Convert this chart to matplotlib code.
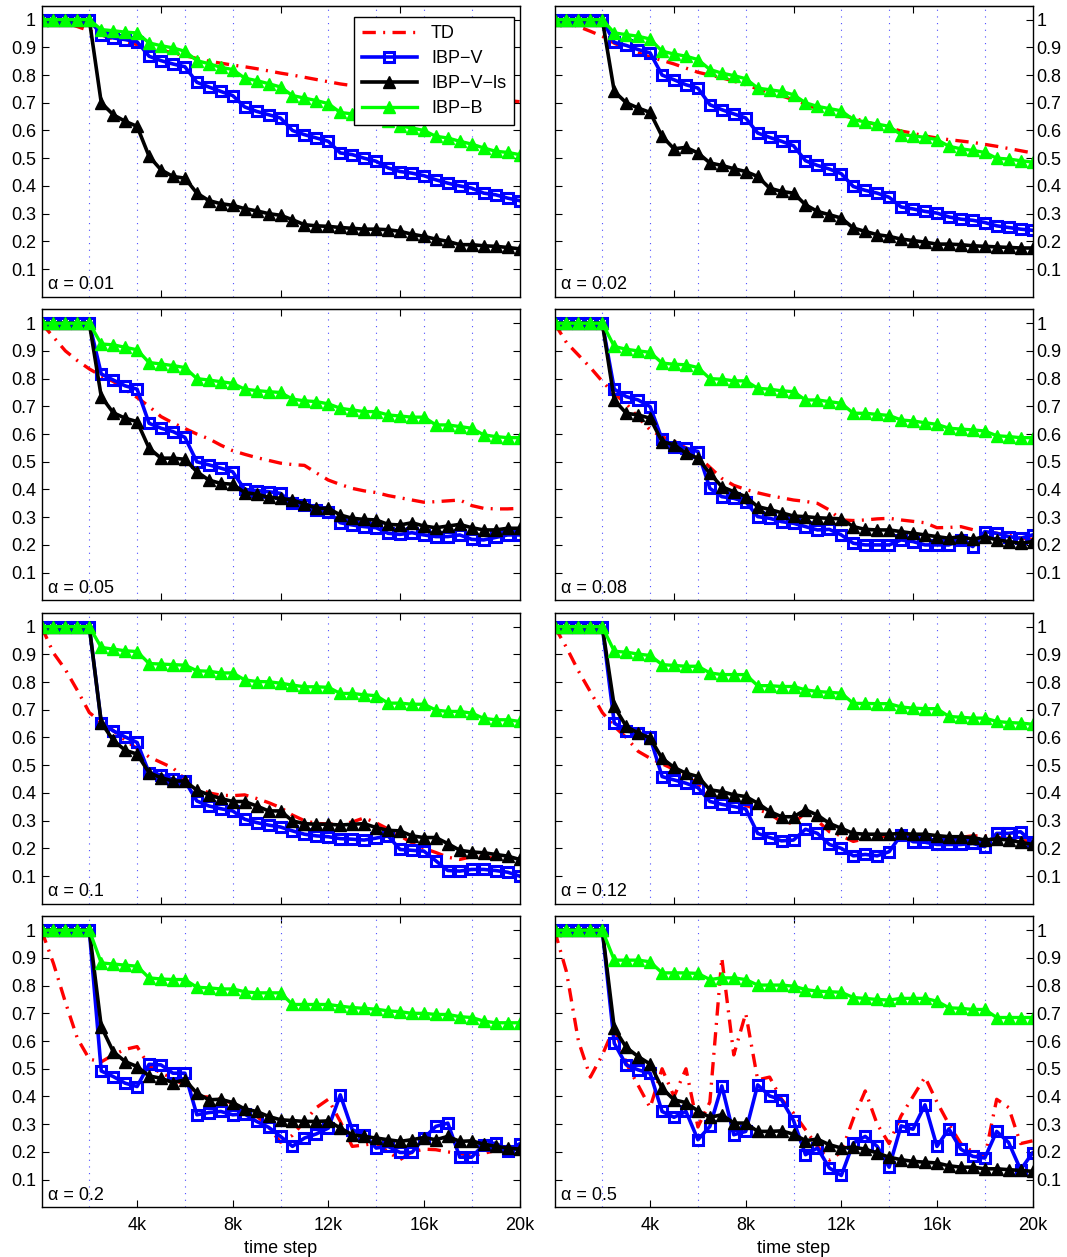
import matplotlib
matplotlib.use("Agg")
import matplotlib.pyplot as plt

plt.rcParams["font.family"] = ["Liberation Sans", "DejaVu Sans"]
plt.rcParams["font.size"] = 13

# sampling grid of the learning curves (every 500 steps)
time_step = list(range(0, 20001, 500))

alphas = ["0.01", "0.02", "0.05", "0.08", "0.1", "0.12", "0.2", "0.5"]
series_names = ["TD", "IBP\u2212V", "IBP\u2212V\u2212ls", "IBP\u2212B"]

# alpha = 0.01
td_a001 = [1.0, 0.995, 0.99, 0.975, 0.96, 0.945, 0.93, 0.92, 0.91, 0.90, 0.89, 0.88, 0.87, 0.86,
           0.85, 0.843, 0.836, 0.83, 0.823, 0.815, 0.807, 0.80, 0.792, 0.784, 0.776, 0.768, 0.762,
           0.757, 0.752, 0.748, 0.744, 0.74, 0.736, 0.732, 0.728, 0.724, 0.72, 0.716, 0.712, 0.708, 0.704]
ibpv_a001 = [1, 1, 1, 1, 1, 0.946, 0.934, 0.928, 0.92, 0.868, 0.852, 0.84, 0.83, 0.774, 0.757, 0.741,
             0.726, 0.685, 0.669, 0.657, 0.645, 0.60, 0.585, 0.573, 0.561, 0.519, 0.513, 0.50, 0.489,
             0.465, 0.452, 0.446, 0.437, 0.422, 0.41, 0.40, 0.392, 0.374, 0.368, 0.356, 0.347]
ibpvls_a001 = [1, 1, 1, 1, 1, 0.70, 0.657, 0.633, 0.615, 0.507, 0.458, 0.434, 0.428, 0.374, 0.347,
               0.336, 0.33, 0.318, 0.31, 0.30, 0.294, 0.278, 0.26, 0.256, 0.254, 0.25, 0.247, 0.244,
               0.244, 0.242, 0.236, 0.226, 0.218, 0.208, 0.20, 0.188, 0.188, 0.184, 0.182, 0.178, 0.173]
ibpb_a001 = [1, 1, 1, 1, 1, 0.964, 0.96, 0.955, 0.952, 0.916, 0.906, 0.898, 0.886, 0.852, 0.841, 0.828,
             0.82, 0.789, 0.78, 0.769, 0.757, 0.726, 0.717, 0.708, 0.697, 0.665, 0.66, 0.651, 0.645,
             0.633, 0.617, 0.609, 0.60, 0.579, 0.573, 0.561, 0.551, 0.537, 0.525, 0.521, 0.513]

# alpha = 0.02
td_a002 = [1.0, 0.99, 0.975, 0.958, 0.94, 0.915, 0.895, 0.88, 0.865, 0.853, 0.84, 0.825, 0.81, 0.80,
           0.79, 0.778, 0.765, 0.75, 0.738, 0.725, 0.711, 0.695, 0.678, 0.665, 0.655, 0.645, 0.632,
           0.62, 0.61, 0.598, 0.59, 0.58, 0.573, 0.567, 0.562, 0.557, 0.55, 0.543, 0.535, 0.527, 0.519]
ibpv_a002 = [1, 1, 1, 1, 1, 0.918, 0.907, 0.892, 0.88, 0.80, 0.783, 0.765, 0.753, 0.693, 0.675, 0.66,
             0.645, 0.591, 0.575, 0.561, 0.545, 0.491, 0.474, 0.461, 0.444, 0.398, 0.384, 0.374, 0.359,
             0.324, 0.317, 0.308, 0.302, 0.288, 0.28, 0.276, 0.268, 0.256, 0.25, 0.244, 0.24]
ibpvls_a002 = [1, 1, 1, 1, 1, 0.741, 0.70, 0.681, 0.665, 0.579, 0.534, 0.539, 0.519, 0.483, 0.474,
               0.462, 0.452, 0.434, 0.392, 0.38, 0.374, 0.332, 0.308, 0.296, 0.284, 0.248, 0.236, 0.224,
               0.218, 0.208, 0.203, 0.197, 0.19, 0.19, 0.188, 0.184, 0.182, 0.18, 0.178, 0.176, 0.176]
ibpb_a002 = [1, 1, 1, 1, 1, 0.952, 0.946, 0.94, 0.93, 0.886, 0.876, 0.868, 0.856, 0.82, 0.807, 0.798,
             0.787, 0.753, 0.747, 0.741, 0.729, 0.70, 0.687, 0.679, 0.671, 0.639, 0.631, 0.623, 0.615,
             0.585, 0.581, 0.575, 0.567, 0.543, 0.534, 0.528, 0.521, 0.50, 0.497, 0.491, 0.486]

# alpha = 0.05
td_a005 = [1.0, 0.95, 0.9, 0.865, 0.835, 0.81, 0.79, 0.76, 0.732, 0.70, 0.663, 0.64, 0.62, 0.60,
           0.583, 0.56, 0.54, 0.527, 0.515, 0.505, 0.495, 0.49, 0.487, 0.46, 0.434, 0.418, 0.404,
           0.395, 0.389, 0.378, 0.37, 0.362, 0.354, 0.356, 0.359, 0.362, 0.342, 0.332, 0.33, 0.33, 0.332]
ibpv_a005 = [1, 1, 1, 1, 1, 0.817, 0.795, 0.774, 0.762, 0.639, 0.621, 0.609, 0.588, 0.50, 0.489, 0.477,
             0.464, 0.40, 0.396, 0.392, 0.386, 0.35, 0.344, 0.326, 0.32, 0.28, 0.272, 0.266, 0.262,
             0.242, 0.238, 0.244, 0.236, 0.23, 0.23, 0.236, 0.22, 0.218, 0.227, 0.236, 0.236]
ibpvls_a005 = [1, 1, 1, 1, 1, 0.735, 0.677, 0.657, 0.645, 0.549, 0.513, 0.513, 0.509, 0.464, 0.434,
               0.422, 0.419, 0.389, 0.383, 0.372, 0.368, 0.362, 0.348, 0.332, 0.332, 0.308, 0.296, 0.292,
               0.29, 0.274, 0.272, 0.28, 0.268, 0.262, 0.268, 0.274, 0.262, 0.254, 0.254, 0.26, 0.26]
ibpb_a005 = [1, 1, 1, 1, 1, 0.925, 0.922, 0.913, 0.904, 0.858, 0.853, 0.847, 0.84, 0.80, 0.795, 0.789,
             0.783, 0.762, 0.757, 0.753, 0.75, 0.726, 0.72, 0.717, 0.709, 0.693, 0.687, 0.681, 0.681,
             0.669, 0.665, 0.661, 0.661, 0.633, 0.633, 0.627, 0.621, 0.597, 0.591, 0.587, 0.587]

# alpha = 0.08
td_a008 = [1.0, 0.93, 0.885, 0.84, 0.79, 0.745, 0.71, 0.66, 0.615, 0.59, 0.575, 0.55, 0.52, 0.48,
           0.44, 0.415, 0.40, 0.388, 0.378, 0.37, 0.362, 0.357, 0.35, 0.326, 0.29, 0.288, 0.29,
           0.294, 0.296, 0.29, 0.285, 0.28, 0.262, 0.263, 0.266, 0.255, 0.248, 0.242, 0.235, 0.225, 0.22]
ibpv_a008 = [1, 1, 1, 1, 1, 0.762, 0.735, 0.723, 0.699, 0.581, 0.555, 0.549, 0.537, 0.404, 0.374, 0.368,
             0.356, 0.302, 0.296, 0.284, 0.278, 0.266, 0.254, 0.256, 0.236, 0.206, 0.20, 0.20, 0.20,
             0.218, 0.212, 0.20, 0.20, 0.20, 0.218, 0.194, 0.248, 0.242, 0.23, 0.224, 0.236]
ibpvls_a008 = [1, 1, 1, 1, 1, 0.723, 0.675, 0.669, 0.657, 0.573, 0.561, 0.531, 0.513, 0.458, 0.41,
               0.392, 0.374, 0.338, 0.328, 0.316, 0.304, 0.302, 0.298, 0.296, 0.294, 0.266, 0.256, 0.254,
               0.254, 0.248, 0.242, 0.236, 0.23, 0.224, 0.23, 0.22, 0.23, 0.218, 0.212, 0.206, 0.212]
ibpb_a008 = [1, 1, 1, 1, 1, 0.916, 0.906, 0.90, 0.895, 0.856, 0.852, 0.85, 0.84, 0.80, 0.798, 0.792,
             0.792, 0.765, 0.762, 0.756, 0.753, 0.723, 0.723, 0.717, 0.711, 0.675, 0.675, 0.671, 0.667,
             0.651, 0.647, 0.641, 0.635, 0.621, 0.618, 0.615, 0.611, 0.594, 0.591, 0.587, 0.587]

# alpha = 0.1
td_a010 = [1.0, 0.905, 0.845, 0.77, 0.69, 0.655, 0.625, 0.59, 0.56, 0.53, 0.51, 0.49, 0.45, 0.42,
           0.40, 0.392, 0.39, 0.393, 0.38, 0.365, 0.347, 0.32, 0.30, 0.29, 0.288, 0.287, 0.295, 0.31,
           0.292, 0.27, 0.245, 0.22, 0.20, 0.185, 0.168, 0.16, 0.17, 0.17, 0.163, 0.158, 0.155]
ibpv_a010 = [1, 1, 1, 1, 1, 0.654, 0.624, 0.602, 0.582, 0.473, 0.465, 0.449, 0.443, 0.371, 0.353, 0.343,
             0.335, 0.305, 0.293, 0.284, 0.277, 0.263, 0.251, 0.245, 0.242, 0.235, 0.233, 0.23, 0.237,
             0.245, 0.196, 0.193, 0.19, 0.155, 0.12, 0.118, 0.124, 0.124, 0.12, 0.114, 0.10]
ibpvls_a010 = [1, 1, 1, 1, 1, 0.654, 0.59, 0.554, 0.54, 0.473, 0.455, 0.443, 0.443, 0.41, 0.393,
               0.38, 0.369, 0.369, 0.353, 0.335, 0.335, 0.299, 0.289, 0.287, 0.287, 0.284, 0.287, 0.289,
               0.275, 0.265, 0.263, 0.245, 0.239, 0.239, 0.217, 0.193, 0.187, 0.184, 0.178, 0.172, 0.16]
ibpb_a010 = [1, 1, 1, 1, 1, 0.925, 0.919, 0.913, 0.91, 0.867, 0.865, 0.863, 0.861, 0.841, 0.839, 0.833,
             0.833, 0.808, 0.802, 0.801, 0.796, 0.789, 0.783, 0.783, 0.781, 0.759, 0.759, 0.754, 0.751,
             0.724, 0.724, 0.72, 0.72, 0.699, 0.694, 0.694, 0.688, 0.669, 0.664, 0.664, 0.658]

# alpha = 0.12
td_a012 = [1.0, 0.925, 0.84, 0.765, 0.69, 0.64, 0.60, 0.55, 0.525, 0.505, 0.485, 0.465, 0.43, 0.39,
           0.38, 0.37, 0.355, 0.34, 0.325, 0.295, 0.29, 0.33, 0.30, 0.26, 0.245, 0.225, 0.235, 0.24,
           0.245, 0.248, 0.245, 0.24, 0.236, 0.238, 0.24, 0.245, 0.245, 0.24, 0.235, 0.23, 0.224]
ibpv_a012 = [1, 1, 1, 1, 1, 0.652, 0.624, 0.616, 0.60, 0.459, 0.447, 0.435, 0.419, 0.369, 0.359, 0.351,
             0.342, 0.254, 0.239, 0.227, 0.23, 0.269, 0.254, 0.214, 0.20, 0.173, 0.178, 0.173, 0.188,
             0.248, 0.224, 0.222, 0.214, 0.214, 0.214, 0.218, 0.206, 0.254, 0.254, 0.26, 0.222]
ibpvls_a012 = [1, 1, 1, 1, 1, 0.712, 0.64, 0.616, 0.598, 0.525, 0.492, 0.471, 0.459, 0.411, 0.405,
               0.393, 0.387, 0.363, 0.333, 0.314, 0.314, 0.339, 0.32, 0.29, 0.272, 0.254, 0.251, 0.251,
               0.251, 0.254, 0.251, 0.251, 0.246, 0.242, 0.242, 0.239, 0.23, 0.234, 0.23, 0.222, 0.214]
ibpb_a012 = [1, 1, 1, 1, 1, 0.911, 0.908, 0.901, 0.896, 0.863, 0.86, 0.857, 0.857, 0.833, 0.827, 0.827,
             0.827, 0.787, 0.787, 0.784, 0.784, 0.772, 0.766, 0.763, 0.76, 0.723, 0.723, 0.722, 0.722,
             0.71, 0.706, 0.704, 0.704, 0.676, 0.673, 0.67, 0.67, 0.658, 0.654, 0.652, 0.648]

# alpha = 0.2
td_a020 = [1.0, 0.88, 0.74, 0.61, 0.535, 0.525, 0.55, 0.57, 0.58, 0.51, 0.485, 0.465, 0.44, 0.40,
           0.398, 0.39, 0.375, 0.355, 0.33, 0.29, 0.235, 0.26, 0.31, 0.36, 0.39, 0.31, 0.22, 0.225,
           0.232, 0.20, 0.172, 0.20, 0.21, 0.208, 0.20, 0.195, 0.185, 0.195, 0.205, 0.21, 0.214]
ibpv_a020 = [1, 1, 1, 1, 1, 0.492, 0.472, 0.448, 0.436, 0.516, 0.514, 0.484, 0.484, 0.334, 0.342, 0.346,
             0.334, 0.337, 0.31, 0.289, 0.256, 0.22, 0.25, 0.265, 0.286, 0.406, 0.28, 0.262, 0.214,
             0.22, 0.198, 0.198, 0.25, 0.292, 0.304, 0.181, 0.181, 0.226, 0.232, 0.205, 0.229]
ibpvls_a020 = [1, 1, 1, 1, 1, 0.652, 0.562, 0.526, 0.508, 0.474, 0.466, 0.45, 0.46, 0.412, 0.388,
               0.39, 0.378, 0.355, 0.346, 0.328, 0.316, 0.313, 0.31, 0.31, 0.312, 0.286, 0.262, 0.256,
               0.25, 0.244, 0.238, 0.244, 0.252, 0.244, 0.256, 0.238, 0.24, 0.228, 0.22, 0.214, 0.21]
ibpb_a020 = [1, 1, 1, 1, 1, 0.882, 0.878, 0.874, 0.87, 0.828, 0.824, 0.822, 0.822, 0.794, 0.792, 0.788,
             0.788, 0.778, 0.774, 0.774, 0.774, 0.732, 0.732, 0.732, 0.732, 0.726, 0.721, 0.718, 0.715,
             0.709, 0.706, 0.70, 0.70, 0.696, 0.696, 0.688, 0.685, 0.672, 0.666, 0.666, 0.666]

# alpha = 0.5
td_a050 = [1.0, 0.85, 0.6, 0.47, 0.55, 0.65, 0.52, 0.44, 0.36, 0.50, 0.40, 0.50, 0.29, 0.38, 0.90,
           0.55, 0.70, 0.46, 0.47, 0.39, 0.34, 0.28, 0.22, 0.17, 0.20, 0.32, 0.42, 0.30, 0.23, 0.33,
           0.40, 0.47, 0.38, 0.30, 0.23, 0.20, 0.18, 0.39, 0.36, 0.23, 0.24]
ibpv_a050 = [1, 1, 1, 1, 1, 0.592, 0.514, 0.496, 0.484, 0.346, 0.325, 0.346, 0.244, 0.292, 0.438, 0.262,
             0.274, 0.442, 0.402, 0.388, 0.313, 0.19, 0.214, 0.142, 0.115, 0.232, 0.256, 0.22, 0.145,
             0.294, 0.282, 0.37, 0.22, 0.283, 0.21, 0.184, 0.178, 0.274, 0.234, 0.136, 0.196]
ibpvls_a050 = [1, 1, 1, 1, 1, 0.646, 0.577, 0.544, 0.517, 0.43, 0.388, 0.378, 0.348, 0.325, 0.334,
               0.304, 0.304, 0.274, 0.274, 0.276, 0.264, 0.241, 0.246, 0.226, 0.214, 0.217, 0.21, 0.196,
               0.181, 0.172, 0.166, 0.163, 0.16, 0.15, 0.145, 0.145, 0.139, 0.139, 0.136, 0.133, 0.13]
ibpb_a050 = [1, 1, 1, 1, 1, 0.892, 0.892, 0.892, 0.886, 0.846, 0.846, 0.846, 0.844, 0.822, 0.828, 0.828,
             0.822, 0.802, 0.802, 0.802, 0.798, 0.786, 0.78, 0.778, 0.776, 0.757, 0.754, 0.75, 0.748,
             0.754, 0.754, 0.754, 0.744, 0.72, 0.718, 0.714, 0.714, 0.685, 0.685, 0.685, 0.685]

td_curves = [td_a001, td_a002, td_a005, td_a008, td_a010, td_a012, td_a020, td_a050]
ibpv_curves = [ibpv_a001, ibpv_a002, ibpv_a005, ibpv_a008, ibpv_a010, ibpv_a012, ibpv_a020, ibpv_a050]
ibpvls_curves = [ibpvls_a001, ibpvls_a002, ibpvls_a005, ibpvls_a008, ibpvls_a010, ibpvls_a012,
                 ibpvls_a020, ibpvls_a050]
ibpb_curves = [ibpb_a001, ibpb_a002, ibpb_a005, ibpb_a008, ibpb_a010, ibpb_a012, ibpb_a020, ibpb_a050]

ytick_values = [0.1, 0.2, 0.3, 0.4, 0.5, 0.6, 0.7, 0.8, 0.9, 1.0]
ytick_labels = ["0.1", "0.2", "0.3", "0.4", "0.5", "0.6", "0.7", "0.8", "0.9", "1"]
xtick_values = [4000, 8000, 12000, 16000, 20000]
xtick_labels = ["4k", "8k", "12k", "16k", "20k"]
frame_ticks = [5000, 10000, 15000]
grid_steps = [2000, 4000, 6000, 8000, 10000, 12000, 14000, 16000, 18000]


def plot_panel(ax, i, right, bottom):
    ax.plot(time_step, td_curves[i], color="r", lw=2.4, dashes=[4, 2.2, 0.6, 2.2],
            label=series_names[0])
    ax.plot(time_step, ibpv_curves[i], color="b", lw=2.6, marker="s", ms=7.5, mew=2.2,
            mfc="none", label=series_names[1])
    ax.plot(time_step, ibpvls_curves[i], color="k", lw=2.6, marker="^", ms=9,
            label=series_names[2])
    ax.plot(time_step, ibpb_curves[i], color=(0, 1, 0), lw=2.4, marker="^", ms=8,
            label=series_names[3])

    ax.set_xlim(0, 20000)
    ax.set_ylim(0, 1.05)
    ax.set_yticks(ytick_values)
    ax.set_yticklabels(ytick_labels)

    # dotted vertical grid every 2k
    ax.set_xticks(grid_steps, minor=True)
    ax.grid(True, which="minor", axis="x", color="#4d4dff", lw=0.8, ls=(0, (1, 5)))
    ax.tick_params(which="minor", length=0)

    if bottom:
        ax.set_xticks(xtick_values)
        ax.set_xticklabels(xtick_labels)
        ax.set_xlabel("time step", labelpad=4)
    else:
        ax.set_xticks(frame_ticks)
        ax.set_xticklabels([])
    top = ax.secondary_xaxis("top")
    top.set_xticks(frame_ticks)
    top.set_xticklabels([])
    top.tick_params(direction="in", length=5)

    ax.tick_params(axis="both", which="major", direction="in", length=5,
                   left=True, right=True, labelsize=13, pad=4)
    ax.tick_params(axis="x", pad=7)
    if right:
        ax.tick_params(axis="y", labelleft=False, labelright=True, pad=3)
    for s in ax.spines.values():
        s.set_linewidth(1.0)

    ax.text(0.013, 0.042, "\u03b1 = " + alphas[i], transform=ax.transAxes,
            fontsize=13, va="center", ha="left")


fig = plt.figure(figsize=(10.67, 12.57), dpi=100)
lefts = [0.0389, 0.5197]
bottoms = [0.7639, 0.5224, 0.2810, 0.0395]
width, height = 0.448, 0.2315

axes = []
for r in range(4):
    for c in range(2):
        ax = fig.add_axes([lefts[c], bottoms[r], width, height])
        plot_panel(ax, r * 2 + c, right=(c == 1), bottom=(r == 3))
        axes.append(ax)

leg = axes[0].legend(loc="upper right", bbox_to_anchor=(0.989, 0.962), borderaxespad=0,
                     fontsize=13, handlelength=3.0, handletextpad=0.8, fancybox=False,
                     framealpha=1, edgecolor="k", borderpad=0.45, labelspacing=0.45)
leg.set_zorder(10)
leg.get_frame().set_linewidth(1.0)

fig.savefig("out.png", dpi=100)
